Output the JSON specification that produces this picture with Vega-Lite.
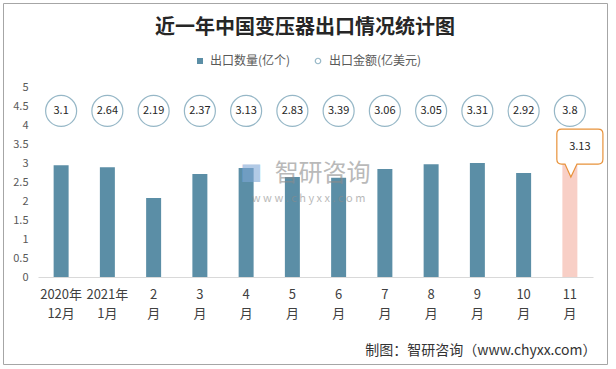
{
  "$schema": "https://vega.github.io/schema/vega-lite/v6.json",
  "width": 604,
  "height": 361,
  "autosize": {"type": "none"},
  "padding": {"left": 3, "top": 3, "right": 9, "bottom": 5},
  "background": "white",
  "config": {
    "view": {"stroke": "#a6a6a6", "strokeWidth": 1},
    "font": "Noto Sans CJK SC",
    "axisY": {"labelOverlap": false, "labelFontSize": 11, "labelColor": "#595959", "domain": false, "ticks": false, "grid": false, "labelPadding": 2}
  },
  "title": {
    "text": "近一年中国变压器出口情况统计图",
    "fontSize": 20,
    "fontWeight": "bold",
    "color": "#262626",
    "anchor": "middle",
    "baseline": "top",
    "offset": -35
  },
  "data": {
    "values": [
      {"m": "2020年|12月", "qty": 2.94, "amt": 3.1},
      {"m": "2021年|1月", "qty": 2.89, "amt": 2.64},
      {"m": "2|月", "qty": 2.08, "amt": 2.19},
      {"m": "3|月", "qty": 2.71, "amt": 2.37},
      {"m": "4|月", "qty": 2.87, "amt": 3.13},
      {"m": "5|月", "qty": 2.63, "amt": 2.83},
      {"m": "6|月", "qty": 2.61, "amt": 3.39},
      {"m": "7|月", "qty": 2.84, "amt": 3.06},
      {"m": "8|月", "qty": 2.97, "amt": 3.05},
      {"m": "9|月", "qty": 3.0, "amt": 3.31},
      {"m": "10|月", "qty": 2.74, "amt": 2.92},
      {"m": "11|月", "qty": 3.13, "amt": 3.8}
    ]
  },
  "encoding": {
    "x": {
      "field": "m",
      "type": "nominal",
      "sort": null,
      "scale": {"range": [35, 590], "paddingInner": 0.676, "paddingOuter": 0.338},
      "axis": {
        "orient": "bottom",
        "offset": -87,
        "labelExpr": "split(datum.label, '|')",
        "labelAngle": 0,
        "labelFontSize": 13,
        "labelColor": "#404040",
        "labelLineHeight": 19,
        "labelPadding": 11,
        "labelBaseline": "top",
        "ticks": false,
        "domainColor": "#d9d9d9",
        "title": "制图：智研咨询（www.chyxx.com）",
        "titleFontSize": 14,
        "titleFontWeight": "normal",
        "titleColor": "#333333",
        "titleAnchor": null,
        "titleAlign": "right",
        "titleBaseline": "middle",
        "titleX": 593,
        "titleY": 73
      }
    }
  },
  "layer": [
    {
      "transform": [{"filter": "datum.m != '11|月'"}],
      "mark": {"type": "bar"},
      "encoding": {
        "y": {
          "field": "qty",
          "type": "quantitative",
          "scale": {"domain": [0, 5], "range": [274, 84], "nice": false},
          "axis": {"orient": "left", "offset": -27, "values": [0, 0.5, 1, 1.5, 2, 2.5, 3, 3.5, 4, 4.5, 5], "labelExpr": "format(datum.value, '.1~f')", "labelOverlap": false, "title": null}
        },
        "fill": {
          "datum": "出口数量(亿个)",
          "scale": {"range": ["#5b8ea6"]},
          "legend": {
            "orient": "none",
            "legendX": 191,
            "legendY": 52,
            "title": null,
            "symbolType": "square",
            "symbolSize": 36,
            "labelFontSize": 12,
            "labelColor": "#595959",
            "labelOffset": 4,
            "padding": 0
          }
        }
      }
    },
    {
      "transform": [{"filter": "datum.m == '11|月'"}],
      "mark": {"type": "bar", "color": "#f8cfc6"},
      "encoding": {"y": {"field": "qty", "type": "quantitative", "axis": {"orient": "left", "offset": -27, "values": [0, 0.5, 1, 1.5, 2, 2.5, 3, 3.5, 4, 4.5, 5], "labelExpr": "format(datum.value, '.1~f')", "labelOverlap": false, "title": null}}}
    },
    {
      "mark": {"type": "point", "shape": "circle", "size": 961, "filled": false, "strokeWidth": 1.2, "fill": "white"},
      "encoding": {
        "y": {"datum": 4.37, "type": "quantitative", "axis": {"orient": "left", "offset": -27, "values": [0, 0.5, 1, 1.5, 2, 2.5, 3, 3.5, 4, 4.5, 5], "labelExpr": "format(datum.value, '.1~f')", "labelOverlap": false, "title": null}},
        "stroke": {
          "datum": "出口金额(亿美元)",
          "scale": {"range": ["#6b9ab0"]},
          "legend": {
            "orient": "none",
            "legendX": 309,
            "legendY": 52,
            "title": null,
            "symbolType": "circle",
            "symbolSize": 30,
            "symbolFillColor": "white",
            "symbolStrokeWidth": 1.2,
            "labelFontSize": 12,
            "labelColor": "#595959",
            "labelOffset": 5,
            "padding": 0
          }
        }
      }
    },
    {
      "mark": {"type": "text", "fontSize": 11, "color": "#262626", "baseline": "middle"},
      "encoding": {
        "y": {"datum": 4.37, "type": "quantitative", "axis": {"orient": "left", "offset": -27, "values": [0, 0.5, 1, 1.5, 2, 2.5, 3, 3.5, 4, 4.5, 5], "labelExpr": "format(datum.value, '.1~f')", "labelOverlap": false, "title": null}},
        "text": {"field": "amt", "type": "quantitative"}
      }
    },
    {
      "transform": [{"filter": "datum.m == '6|月'"}],
      "mark": {"type": "text", "text": "智研咨询", "fontSize": 24, "color": "#8c8c8c", "opacity": 0.6, "xOffset": -16, "baseline": "middle"},
      "encoding": {"y": {"datum": 2.7, "type": "quantitative", "axis": {"orient": "left", "offset": -27, "values": [0, 0.5, 1, 1.5, 2, 2.5, 3, 3.5, 4, 4.5, 5], "labelExpr": "format(datum.value, '.1~f')", "labelOverlap": false, "title": null}}}
    },
    {
      "transform": [{"filter": "datum.m == '6|月'"}],
      "mark": {"type": "text", "text": "w w w . c h y x x . c o m", "fontSize": 11, "color": "#8c8c8c", "opacity": 0.6, "xOffset": -30, "baseline": "middle"},
      "encoding": {"y": {"datum": 2.05, "type": "quantitative", "axis": {"orient": "left", "offset": -27, "values": [0, 0.5, 1, 1.5, 2, 2.5, 3, 3.5, 4, 4.5, 5], "labelExpr": "format(datum.value, '.1~f')", "labelOverlap": false, "title": null}}}
    },
    {
      "transform": [{"filter": "datum.m == '4|月'"}],
      "mark": {"type": "text", "text": "■", "fontSize": 22, "color": "#7fa7d6", "opacity": 0.6, "xOffset": 5, "baseline": "middle"},
      "encoding": {"y": {"datum": 2.7, "type": "quantitative", "axis": {"orient": "left", "offset": -27, "values": [0, 0.5, 1, 1.5, 2, 2.5, 3, 3.5, 4, 4.5, 5], "labelExpr": "format(datum.value, '.1~f')", "labelOverlap": false, "title": null}}}
    },
    {
      "transform": [{"filter": "datum.m == '11|月'"}],
      "mark": {
        "type": "point",
        "shape": "M -0.76 -1 L 0.76 -1 Q 0.96 -1 0.96 -0.8 L 0.96 0.26 Q 0.96 0.46 0.76 0.46 L -0.12 0.46 L -0.375 1 L -0.62 0.46 L -0.76 0.46 Q -0.96 0.46 -0.96 0.26 L -0.96 -0.8 Q -0.96 -1 -0.76 -1 Z",
        "size": 2304,
        "filled": true,
        "fill": "white",
        "stroke": "#e8923a",
        "strokeWidth": 1.2,
        "opacity": 1,
        "xOffset": 10,
        "yOffset": -5
      },
      "encoding": {"y": {"field": "qty", "type": "quantitative", "axis": {"orient": "left", "offset": -27, "values": [0, 0.5, 1, 1.5, 2, 2.5, 3, 3.5, 4, 4.5, 5], "labelExpr": "format(datum.value, '.1~f')", "labelOverlap": false, "title": null}}}
    },
    {
      "transform": [{"filter": "datum.m == '11|月'"}],
      "mark": {"type": "text", "fontSize": 11, "color": "#262626", "baseline": "middle", "xOffset": 10, "yOffset": -11.5},
      "encoding": {
        "y": {"field": "qty", "type": "quantitative", "axis": {"orient": "left", "offset": -27, "values": [0, 0.5, 1, 1.5, 2, 2.5, 3, 3.5, 4, 4.5, 5], "labelExpr": "format(datum.value, '.1~f')", "labelOverlap": false, "title": null}},
        "text": {"field": "qty", "type": "quantitative"}
      }
    }
  ]
}
